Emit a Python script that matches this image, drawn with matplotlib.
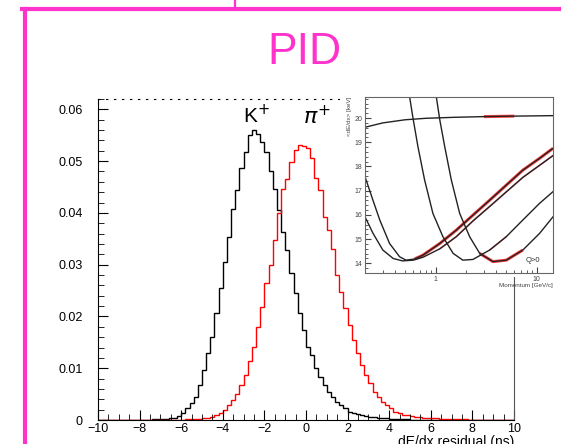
import numpy as np
import matplotlib.pyplot as plt
from matplotlib.lines import Line2D
from matplotlib.ticker import MultipleLocator, FixedLocator, NullFormatter

plt.rcParams['font.family'] = ['Liberation Sans', 'DejaVu Sans']

# dE/dx residual histograms, 100 bins of 0.2 from -10 to 10 (one row = 2 units)
bin_edges = np.linspace(-10, 10, 101)
kaon = [
    0, 0, 0, 0, 0, 0, 0, 0, 0, 0,
    0, 0, 0.00005, 0.0001, 0.0001, 0.0002, 0.0002, 0.0003, 0.0004, 0.0007,
    0.0014, 0.0023, 0.0033, 0.0044, 0.0068, 0.0097, 0.0129, 0.0160, 0.0206, 0.0255,
    0.0305, 0.0354, 0.0407, 0.0444, 0.0486, 0.0518, 0.0550, 0.0561, 0.0553, 0.0536,
    0.0517, 0.0481, 0.0446, 0.0405, 0.0364, 0.0328, 0.0284, 0.0246, 0.0206, 0.0174,
    0.0141, 0.0125, 0.0100, 0.0083, 0.0068, 0.0054, 0.0044, 0.0035, 0.0029, 0.0023,
    0.0016, 0.0013, 0.0011, 0.0009, 0.0008, 0.0006, 0.0005, 0.0004, 0.0004, 0.0003,
    0.0002, 0.0002, 0.0001, 0.0001, 0.0001, 0.00005, 0.00005, 0, 0, 0,
    0, 0, 0, 0, 0, 0, 0, 0, 0, 0,
    0, 0, 0, 0, 0, 0, 0, 0, 0, 0,
]
pion = [
    0, 0, 0, 0, 0, 0, 0, 0, 0, 0,
    0, 0, 0, 0, 0, 0, 0, 0, 0, 0,
    0.00005, 0.0001, 0.0001, 0.0001, 0.0002, 0.0003, 0.0004, 0.0006, 0.0009, 0.0013,
    0.0019, 0.0029, 0.0039, 0.0050, 0.0068, 0.0087, 0.0113, 0.0141, 0.0180, 0.0219,
    0.0264, 0.0300, 0.0347, 0.0400, 0.0447, 0.0465, 0.0499, 0.0521, 0.0532, 0.0529,
    0.0525, 0.0506, 0.0467, 0.0444, 0.0392, 0.0367, 0.0330, 0.0281, 0.0248, 0.0216,
    0.0183, 0.0154, 0.0129, 0.0106, 0.0087, 0.0071, 0.0054, 0.0044, 0.0035, 0.0029,
    0.0023, 0.0015, 0.0013, 0.0010, 0.0009, 0.0008, 0.0006, 0.0005, 0.0004, 0.0004,
    0.0003, 0.0003, 0.0002, 0.0002, 0.0002, 0.0001, 0.0001, 0.0001, 0.0001, 0.00005,
    0, 0, 0, 0, 0, 0, 0, 0, 0, 0,
]
ytick_vals = [0, 0.01, 0.02, 0.03, 0.04, 0.05, 0.06]
ytick_labels = ['0', '0.01', '0.02', '0.03', '0.04', '0.05', '0.06']

# inset: <dE/dx> vs momentum, curves
e_p = [0.2, 0.3, 0.5, 0.8, 1.5, 3.0, 6.0, 14.5]
e_val = [19.62, 19.80, 19.93, 19.99, 20.03, 20.06, 20.08, 20.10]
pi_p = [0.2, 0.24, 0.28, 0.35, 0.44, 0.51, 0.62, 0.75, 1.1, 1.6, 2.34, 3.43, 5.0, 7.3, 10.7, 14.5]
pi_val = [17.58, 16.60, 15.79, 14.82, 14.27, 14.13, 14.18, 14.34, 14.82, 15.37, 15.99, 16.61, 17.23, 17.85, 18.34, 18.75]
mu_p = [0.2, 0.24, 0.30, 0.38, 0.47, 0.6, 0.75, 1.1, 1.6, 2.34, 3.43, 5.0, 7.3, 10.7, 14.5]
mu_val = [15.92, 15.24, 14.55, 14.20, 14.10, 14.13, 14.25, 14.60, 15.10, 15.75, 16.35, 16.95, 17.55, 18.05, 18.45]
k_p = [0.553, 0.597, 0.668, 0.778, 0.94, 1.18, 1.49, 1.86, 2.34, 3.43, 5.0, 7.3, 10.7, 14.5]
k_val = [20.87, 20.0, 18.82, 17.44, 16.06, 15.10, 14.41, 14.13, 14.16, 14.55, 15.10, 15.79, 16.48, 16.96]
p_p = [1.016, 1.10, 1.23, 1.43, 1.73, 2.17, 2.73, 3.69, 5.0, 7.3, 10.7, 14.5]
p_val = [20.87, 19.92, 18.82, 17.44, 16.06, 15.10, 14.41, 14.07, 14.13, 14.55, 15.24, 15.92]

pink = '#ff33cc'

fig = plt.figure(figsize=(5.61, 4.44), dpi=100)

# slide frame
fig.add_artist(Line2D([0.039, 1.0], [0.979, 0.979], color=pink, lw=3.0))
fig.add_artist(Line2D([0.0437, 0.0437], [0.0, 0.979], color=pink, lw=3.0))
fig.add_artist(Line2D([0.4195, 0.4195], [0.979, 1.0], color=pink, lw=1.6))
fig.text(304 / 561, 1 - 52 / 444, 'PID', color=pink, fontsize=32,
         ha='center', va='center')

# main histogram
ax = fig.add_axes([98 / 561, 24 / 444, 416 / 561, 321 / 444])
ax.stairs(kaon, bin_edges, color='black', lw=1.0)
ax.stairs(pion, bin_edges, color='red', lw=1.0)
ax.set_xlim(-10, 10)
ax.set_ylim(0, 0.062)
ax.xaxis.set_major_locator(MultipleLocator(2))
ax.xaxis.set_minor_locator(MultipleLocator(0.5))
ax.yaxis.set_major_locator(FixedLocator(ytick_vals))
ax.set_yticklabels(ytick_labels)
ax.yaxis.set_minor_locator(MultipleLocator(0.002))
ax.tick_params(which='both', direction='in', labelsize=9)
ax.tick_params(which='major', length=7)
ax.tick_params(which='minor', length=4)
ax.tick_params(axis='y', pad=11)
ax.tick_params(axis='x', pad=2.5)
ax.spines['top'].set_linestyle((0, (1.2, 6.0)))
ax.spines['right'].set_color('#555555')
ax.text(-2.4, 0.0588, r'K$^{+}$', fontsize=15, ha='center', va='center')
ax.text(0.5, 0.0585, r'$\pi^{+}$', fontsize=16, ha='center', va='center')
fig.text(514 / 561, 2 / 444, 'dE/dx residual (ns)', fontsize=10,
         ha='right', va='center')

# white patch behind the inset picture
bg = fig.add_axes([340 / 561, (444 - 277) / 444, 221 / 561, 192 / 444])
bg.set_facecolor('white')
bg.set_xticks([])
bg.set_yticks([])
for s in bg.spines.values():
    s.set_visible(False)

# inset: dE/dx vs momentum
ins = fig.add_axes([365 / 561, (444 - 273) / 444, 188 / 561, 176 / 444])
red_kw = dict(color='red', lw=2.2, alpha=0.75, solid_capstyle='butt')
ins.plot(e_p[5:7], e_val[5:7], **red_kw)
ins.plot(pi_p[6:], pi_val[6:], **red_kw)
ins.plot(mu_p[7:], mu_val[7:], color='red', lw=1.2, alpha=0.5)
ins.plot(p_p[6:10], p_val[6:10], **red_kw)
ins.plot(k_p[9:11], k_val[9:11], color='red', lw=1.2, alpha=0.5)
for px_, pv_ in [(e_p, e_val), (pi_p, pi_val), (mu_p, mu_val), (k_p, k_val), (p_p, p_val)]:
    ins.plot(px_, pv_, color='#222222', lw=1.0)
ins.set_xscale('log')
ins.set_xlim(0.2, 14.5)
ins.set_ylim(13.6, 20.87)
ins.xaxis.set_major_locator(FixedLocator([1, 10]))
ins.set_xticklabels(['1', '10'])
ins.xaxis.set_minor_formatter(NullFormatter())
ins.yaxis.set_major_locator(MultipleLocator(1))
ins.yaxis.set_minor_locator(MultipleLocator(0.2))
ins.tick_params(which='both', direction='in', labelsize=5, colors='#444444', pad=2)
ins.tick_params(which='major', length=4)
ins.tick_params(which='minor', length=2)
for s in ins.spines.values():
    s.set_color('#666666')
    s.set_linewidth(0.8)
ins.set_ylabel('<dE/dx> [keV]', fontsize=4.5, color='#444444', loc='top', labelpad=2)
ins.set_xlabel('Momentum [GeV/c]', fontsize=4.5, color='#444444', loc='right', labelpad=0)
ins.text(0.93, 0.07, 'Q>0', transform=ins.transAxes, fontsize=5.5,
         ha='right', va='center', color='#333333')

fig.savefig('out.png', dpi=100)
